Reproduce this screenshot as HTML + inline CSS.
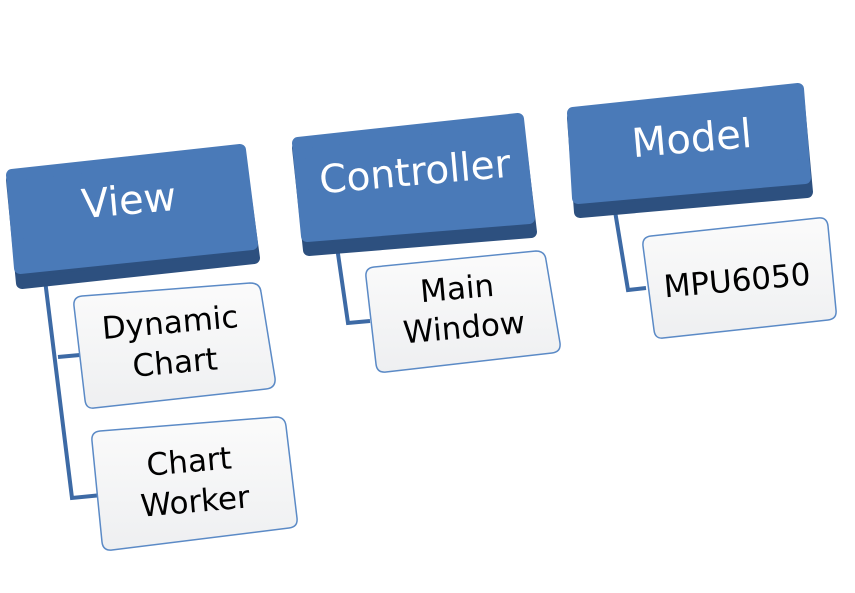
<!DOCTYPE html>
<html><head><meta charset="utf-8"><style>
html,body{margin:0;padding:0;background:#fff;width:855px;height:593px;overflow:hidden}
svg text{font-family:"DejaVu Sans","Liberation Sans",sans-serif}
</style></head><body>
<svg width="855" height="593" viewBox="0 0 855 593" xmlns="http://www.w3.org/2000/svg">
<defs>
<linearGradient id="g" x1="0" y1="0" x2="0" y2="1">
<stop offset="0" stop-color="#fbfbfb"/><stop offset="1" stop-color="#eeeff1"/></linearGradient>
</defs>
<g fill="none" stroke="#3d6aa5" stroke-width="4">
<polyline points="45,280 72,498 102,495"/>
<line x1="58" y1="357" x2="80" y2="355"/>
<polyline points="336,240 348,323 370,321"/>
<polyline points="614,205 628,290 646,288"/>
</g>
<g stroke-linejoin="round">
<polygon points="12,180 240,155 254,258 22,283" fill="#2d507f" stroke="#2d507f" stroke-width="12"/>
<polygon points="12,175 240,150 252,244 20,268" fill="#4a7ab8" stroke="#4a7ab8" stroke-width="12"/>
<polygon points="298,148 518,124 531,232 309,250" fill="#2d507f" stroke="#2d507f" stroke-width="12"/>
<polygon points="298,143 518,119 529,218 307,236" fill="#4a7ab8" stroke="#4a7ab8" stroke-width="12"/>
<polygon points="573,118 798,94 807,192 580,212" fill="#2d507f" stroke="#2d507f" stroke-width="12"/>
<polygon points="573,113 798,89 805,178 578,198" fill="#4a7ab8" stroke="#4a7ab8" stroke-width="12"/>
</g>
<g fill="url(#g)" stroke="#5b8ac6" stroke-width="1.5" stroke-linejoin="round">
<path d="M82,296 L250,283 Q260,283 261,292 L275,378 Q276,388 266,389 L94,408 Q86,409 85,400 L74,306 Q73,297 82,296 Z"/>
<path d="M100,431 L276,417 Q285,417 286,426 L297,518 Q298,527 289,528 L112,550 Q103,551 102,542 L92,441 Q91,432 100,431 Z"/>
<path d="M374,267 L536,251 Q545,251 546,260 L560,343 Q561,352 552,353 L386,372 Q377,373 376,364 L366,277 Q365,268 374,267 Z"/>
<path d="M651,236 L818,218 Q827,217 828,226 L836,310 Q837,319 828,320 L663,338 Q655,339 654,330 L643,246 Q642,237 651,236 Z"/>
</g>
<g fill="#fff" font-size="40" text-anchor="middle">
<text x="130" y="214" transform="rotate(-5 130 214)">View</text>
<text x="416" y="185" transform="rotate(-5 416 185)" font-size="39">Controller</text>
<text x="693" y="152" transform="rotate(-5 693 152)">Model</text>
</g>
<g fill="#000" font-size="31" text-anchor="middle">
<text x="171" y="333" transform="rotate(-5 171 333)">Dynamic</text>
<text x="176" y="373" transform="rotate(-5 176 373)">Chart</text>
<text x="190" y="472" transform="rotate(-5 190 472)">Chart</text>
<text x="196" y="512" transform="rotate(-5 196 512)">Worker</text>
<text x="458" y="299" transform="rotate(-5 458 299)">Main</text>
<text x="465" y="338" transform="rotate(-5 465 338)">Window</text>
<text x="738" y="291" transform="rotate(-5 738 291)">MPU6050</text>
</g>
</svg>
</body></html>
